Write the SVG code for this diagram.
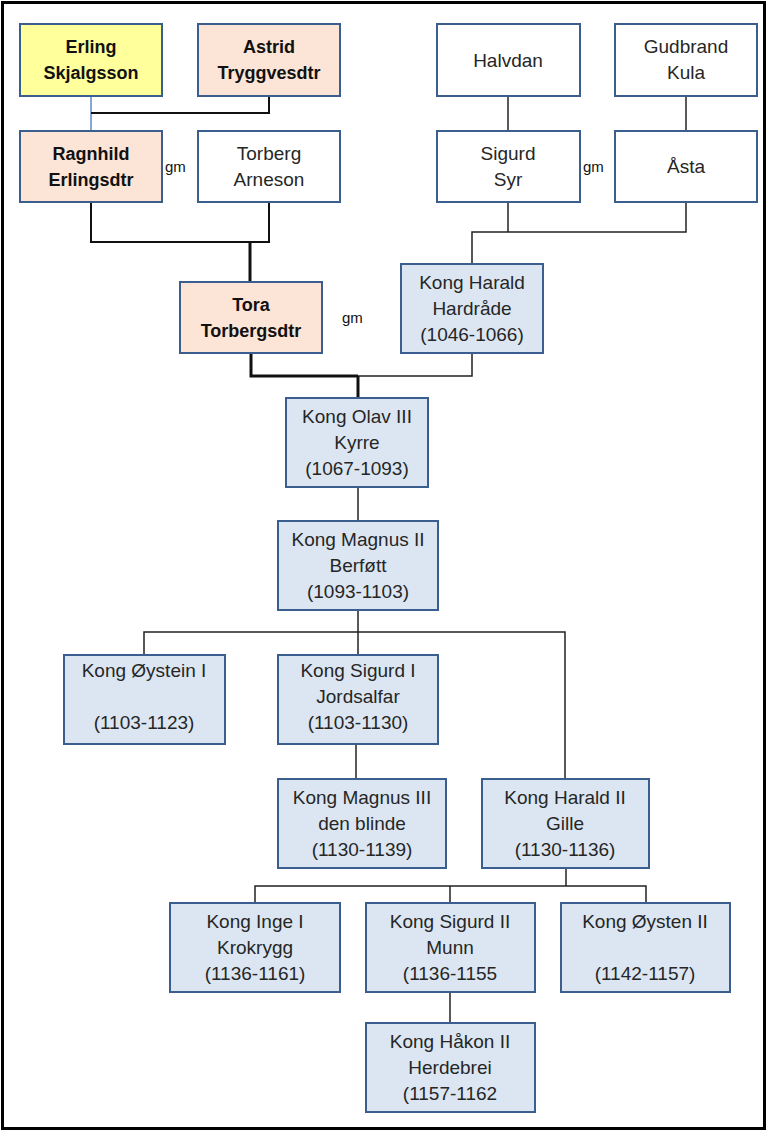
<svg xmlns="http://www.w3.org/2000/svg" width="768" height="1132" viewBox="0 0 768 1132">
<style>
  .box { stroke: #3A5F8F; stroke-width: 2; }
  .blue { fill: #DCE6F2; }
  .peach { fill: #FCE4D6; }
  .yellow { fill: #FFFF9C; }
  .white { fill: #FFFFFF; }
  text { font-family: "Liberation Sans", Arial, sans-serif; font-size: 19px; fill: #262626; text-anchor: middle; }
  text.b { font-weight: bold; font-size: 18px; fill: #111111; }
  text.gm { font-size: 15px; text-anchor: start; fill: #111111; }
  .ln { fill: none; stroke: #111111; stroke-width: 2; }
  .thk { fill: none; stroke: #111111; stroke-width: 3; }
  .thn { fill: none; stroke: #222222; stroke-width: 1.5; }
</style>
<rect x="2.5" y="2.5" width="762" height="1126" fill="#FFFFFF" stroke="#000000" stroke-width="3"/>

<g id="connectors">
  <line x1="91" y1="96" x2="91" y2="131" stroke="#5B8BC0" stroke-width="1.5"/>
  <polyline class="ln" points="91,113 269,113 269,96"/>
  <polyline class="ln" points="91,202 91,242 269,242 269,202"/>
  <line class="thk" x1="250" y1="242" x2="250" y2="282"/>
  <line class="thn" x1="508" y1="96" x2="508" y2="131"/>
  <line class="thn" x1="686" y1="96" x2="686" y2="131"/>
  <line class="thn" x1="508" y1="202" x2="508" y2="232"/>
  <polyline class="thn" points="472,264 472,232 686,232 686,202"/>
  <polyline class="thk" points="251,353 251,376 358,376"/>
  <polyline class="thn" points="358,376 472,376 472,353"/>
  <line class="thk" x1="358" y1="376" x2="358" y2="398"/>
  <line class="thn" x1="358" y1="487" x2="358" y2="521"/>
  <line class="thn" x1="358" y1="610" x2="358" y2="655"/>
  <polyline class="thn" points="144,655 144,632 565,632 565,779"/>
  <line class="thn" x1="356" y1="744" x2="356" y2="779"/>
  <line class="thn" x1="566" y1="868" x2="566" y2="886"/>
  <polyline class="thn" points="255,903 255,886 646,886 646,903"/>
  <line class="thn" x1="450" y1="886" x2="450" y2="903"/>
  <line class="thn" x1="450" y1="992" x2="450" y2="1023"/>
</g>

<g id="erling">
  <rect class="box yellow" x="20" y="24" width="142" height="72"/>
  <text class="b" x="91" y="53">Erling</text>
  <text class="b" x="91" y="79">Skjalgsson</text>
</g>
<g id="astrid">
  <rect class="box peach" x="198" y="24" width="142" height="72"/>
  <text class="b" x="269" y="53">Astrid</text>
  <text class="b" x="269" y="79">Tryggvesdtr</text>
</g>
<g id="halvdan">
  <rect class="box white" x="437" y="24" width="143" height="72"/>
  <text x="508" y="67">Halvdan</text>
</g>
<g id="gudbrand">
  <rect class="box white" x="615" y="24" width="142" height="72"/>
  <text x="686" y="53">Gudbrand</text>
  <text x="686" y="79">Kula</text>
</g>
<g id="ragnhild">
  <rect class="box peach" x="20" y="131" width="142" height="71"/>
  <text class="b" x="91" y="160">Ragnhild</text>
  <text class="b" x="91" y="186">Erlingsdtr</text>
</g>
<text class="gm" x="165" y="172">gm</text>
<g id="torberg">
  <rect class="box white" x="198" y="131" width="142" height="71"/>
  <text x="269" y="160">Torberg</text>
  <text x="269" y="186">Arneson</text>
</g>
<g id="sigurd-syr">
  <rect class="box white" x="437" y="131" width="143" height="71"/>
  <text x="508" y="160">Sigurd</text>
  <text x="508" y="186">Syr</text>
</g>
<text class="gm" x="583" y="172">gm</text>
<g id="asta">
  <rect class="box white" x="615" y="131" width="142" height="71"/>
  <text x="686" y="173">Åsta</text>
</g>
<g id="tora">
  <rect class="box peach" x="180" y="282" width="142" height="71"/>
  <text class="b" x="251" y="311">Tora</text>
  <text class="b" x="251" y="337">Torbergsdtr</text>
</g>
<text class="gm" x="342" y="323">gm</text>
<g id="harald-hardrade">
  <rect class="box blue" x="401" y="264" width="142" height="89"/>
  <text x="472" y="289">Kong Harald</text>
  <text x="472" y="315">Hardråde</text>
  <text x="472" y="341">(1046-1066)</text>
</g>
<g id="olav-kyrre">
  <rect class="box blue" x="286" y="398" width="142" height="89"/>
  <text x="357" y="423">Kong Olav III</text>
  <text x="357" y="449">Kyrre</text>
  <text x="357" y="475">(1067-1093)</text>
</g>
<g id="magnus-berfott">
  <rect class="box blue" x="278" y="521" width="160" height="89"/>
  <text x="358" y="546">Kong Magnus II</text>
  <text x="358" y="572">Berføtt</text>
  <text x="358" y="598">(1093-1103)</text>
</g>
<g id="oystein-1">
  <rect class="box blue" x="64" y="655" width="161" height="89"/>
  <text x="144" y="677">Kong Øystein I</text>
  <text x="144" y="729">(1103-1123)</text>
</g>
<g id="sigurd-jorsalfar">
  <rect class="box blue" x="278" y="655" width="160" height="89"/>
  <text x="358" y="677">Kong Sigurd I</text>
  <text x="358" y="703">Jordsalfar</text>
  <text x="358" y="729">(1103-1130)</text>
</g>
<g id="magnus-blinde">
  <rect class="box blue" x="278" y="779" width="168" height="89"/>
  <text x="362" y="804">Kong Magnus III</text>
  <text x="362" y="830">den blinde</text>
  <text x="362" y="856">(1130-1139)</text>
</g>
<g id="harald-gille">
  <rect class="box blue" x="482" y="779" width="167" height="89"/>
  <text x="565" y="804">Kong Harald II</text>
  <text x="565" y="830">Gille</text>
  <text x="565" y="856">(1130-1136)</text>
</g>
<g id="inge-krokrygg">
  <rect class="box blue" x="170" y="903" width="170" height="89"/>
  <text x="255" y="928">Kong Inge I</text>
  <text x="255" y="954">Krokrygg</text>
  <text x="255" y="980">(1136-1161)</text>
</g>
<g id="sigurd-munn">
  <rect class="box blue" x="366" y="903" width="169" height="89"/>
  <text x="450" y="928">Kong Sigurd II</text>
  <text x="450" y="954">Munn</text>
  <text x="450" y="980">(1136-1155</text>
</g>
<g id="oysten-2">
  <rect class="box blue" x="561" y="903" width="169" height="89"/>
  <text x="645" y="928">Kong Øysten II</text>
  <text x="645" y="980">(1142-1157)</text>
</g>
<g id="hakon-herdebrei">
  <rect class="box blue" x="366" y="1023" width="169" height="89"/>
  <text x="450" y="1048">Kong Håkon II</text>
  <text x="450" y="1074">Herdebrei</text>
  <text x="450" y="1100">(1157-1162</text>
</g>
</svg>
